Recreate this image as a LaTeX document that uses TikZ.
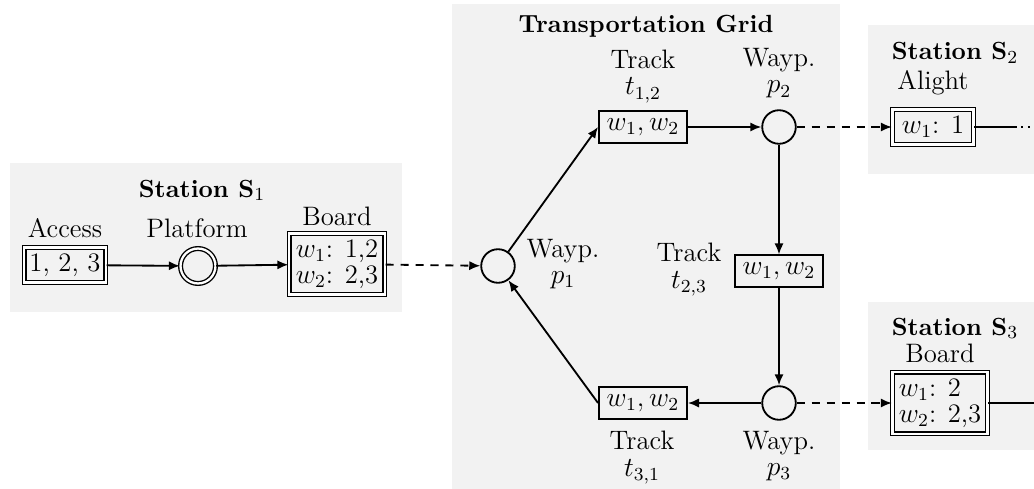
\documentclass[tikz,border=0pt]{standalone}
\usetikzlibrary{arrows.meta}

\tikzset{
  region/.style={fill=gray!10, draw=none},
  place/.style={draw, circle, line width=0.8pt, minimum size=14.6pt, inner sep=0pt},
  trackbox/.style={draw, rectangle, line width=0.8pt, minimum width=38.3pt, minimum height=13.6pt, inner sep=1pt},
  stopbox/.style={draw, rectangle, double, line width=0.6pt, double distance=1pt, inner sep=1.5pt},
  flow/.style={line width=0.8pt, -{Latex[length=4.8pt,width=4pt]}},
  transfer/.style={flow, dash pattern=on 3.5pt off 3pt},
  caption/.style={anchor=base, inner sep=0pt, align=center},
  heading/.style={caption, font=\fontsize{10.8}{13}\selectfont\bfseries},
}

\begin{document}
\begin{tikzpicture}[x=0.4348pt, y=-0.4348pt, font=\fontsize{11.6}{13}\selectfont]
   \useasboundingbox (0,0) rectangle (1034,489);
   % grey areas
   \fill [region] (10,163) rectangle (402,312);
   \fill [region] (452,4) rectangle (840,489);
   \fill [region] (868,25) rectangle (1034,174);
   \fill [region] (868,302) rectangle (1034,450);

   % station S1
   \node [stopbox, minimum width=35.6pt, minimum height=15.2pt] (access) at (65,265) {1, 2, 3};
   \node [stopbox, circle, minimum size=15.2pt, inner sep=0pt] (platform) at (198,266) {};
   \node [stopbox, align=left, minimum width=41.7pt, minimum height=26.5pt, inner sep=1pt] (board1) at (337,264) {$w_1$: 1,2\\[-1.6pt]$w_2$: 2,3};
   \node [heading] (s1title) at (202,197) {Station S$_1$};
   \node [caption] (accesscap) at (65,237) {Access};
   \node [caption] (platformcap) at (197,237) {Platform};
   \node [caption] (board1cap) at (337,225) {Board};

   % grid
   \node [place] (p1) at (498,266) {};
   \node [place] (p2) at (779,127) {};
   \node [place] (p3) at (779,403) {};
   \node [trackbox] (t12) at (643,127) {$w_1, w_2$};
   \node [trackbox] (t23) at (779,271) {$w_1, w_2$};
   \node [trackbox] (t31) at (643,403) {$w_1, w_2$};
   \node [heading] (gridtitle) at (646,33) {Transportation Grid};
   \node [caption] (t12cap) at (643,95) {Track\\[-1.3pt]$t_{1,2}$};
   \node [caption] (p2cap) at (779,93) {Wayp.\\[-1.3pt]$p_2$};
   \node [caption] (p1cap) at (563,283) {Wayp.\\[-1.8pt]$p_1$};
   \node [caption] (t23cap) at (689,288) {Track\\[-1.3pt]$t_{2,3}$};
   \node [caption] (t31cap) at (642,476) {Track\\[-1.3pt]$t_{3,1}$};
   \node [caption] (p3cap) at (779,475) {Wayp.\\[-1.8pt]$p_3$};

   % stations S2 and S3
   \node [stopbox, minimum width=35.2pt, minimum height=15.2pt] (alight) at (933,127) {$w_1$: 1};
   \node [stopbox, align=left, minimum width=41.3pt, minimum height=26.9pt, inner sep=1pt] (board3) at (940,403) {$w_1$: 2\\[-1.6pt]$w_2$: 2,3};
   \node [heading] (s2title) at (955,60) {Station S$_2$};
   \node [caption] (alightcap) at (933,90) {Alight};
   \node [heading] (s3title) at (955,335) {Station S$_3$};
   \node [caption] (board3cap) at (940,362) {Board};
   \coordinate (s2out) at (1015,127);
   \coordinate (s2end) at (1034,127);
   \coordinate (s3end) at (1034,403);

   % connections
   \draw [flow] (access) -- (platform);
   \draw [flow] (platform) -- (board1);
   \draw [transfer] (board1) -- (p1);
   \draw [flow] (p1) -- (t12.west);
   \draw [flow] (t12) -- (p2);
   \draw [flow] (p2) -- (t23);
   \draw [flow] (t23) -- (p3);
   \draw [flow] (p3) -- (t31);
   \draw [flow] (t31.west) -- (p1);
   \draw [transfer] (p2) -- (alight);
   \draw [transfer] (p3) -- (board3);
   \draw [line width=0.8pt] (alight) -- (s2out);
   \draw [line width=0.8pt, dotted] (s2out) -- (s2end);
   \draw [line width=0.8pt] (board3) -- (s3end);

\end{tikzpicture}
\end{document}
